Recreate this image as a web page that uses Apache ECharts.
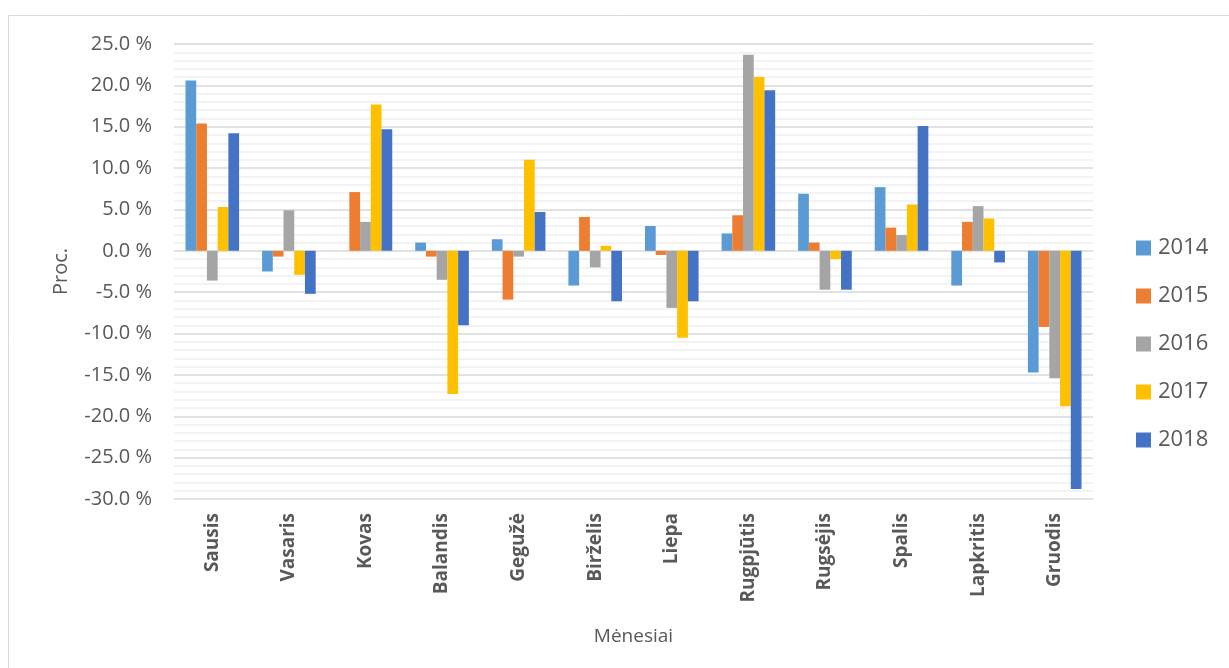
<!DOCTYPE html>
<html>
<head>
<meta charset="utf-8">
<script src="https://cdn.jsdelivr.net/npm/echarts@6/dist/echarts.min.js"></script>
<style>
  html, body { margin: 0; padding: 0; background: #fff; }
  #chart { width: 1229px; height: 668px; }
</style>
</head>
<body>
<div id="chart"></div>
<script>
// Months of the year (Lithuanian)
const months = ['Sausis', 'Vasaris', 'Kovas', 'Balandis', 'Gegužė', 'Birželis',
                'Liepa', 'Rugpjūtis', 'Rugsėjis', 'Spalis', 'Lapkritis', 'Gruodis'];

// Monthly change, percent
const y2014 = [20.6, -2.5, 0.0, 1.0, 1.4, -4.2, 3.0, 2.1, 6.9, 7.7, -4.2, -14.7];
const y2015 = [15.4, -0.7, 7.1, -0.7, -5.9, 4.1, -0.5, 4.3, 1.0, 2.8, 3.5, -9.2];
const y2016 = [-3.6, 4.9, 3.5, -3.5, -0.7, -2.0, -6.9, 23.7, -4.7, 1.9, 5.4, -15.4];
const y2017 = [5.3, -2.9, 17.7, -17.3, 11.0, 0.6, -10.5, 21.0, -1.0, 5.6, 3.9, -18.8];
const y2018 = [14.2, -5.2, 14.7, -9.0, 4.7, -6.1, -6.1, 19.4, -4.7, 15.1, -1.4, -28.8];

const seriesNames = ['2014', '2015', '2016', '2017', '2018'];
const seriesValues = [y2014, y2015, y2016, y2017, y2018];
const colors = ['#5B9BD5', '#ED7D31', '#A5A5A5', '#FFC000', '#4472C4'];

const font = '"Open Sans", "Liberation Sans", sans-serif';

const chart = echarts.init(document.getElementById('chart'), null, { renderer: 'canvas' });

chart.setOption({
  animation: false,
  backgroundColor: '#ffffff',
  color: colors,
  textStyle: { fontFamily: font },
  graphic: [{
    type: 'rect',
    shape: { x: 8.5, y: 15.5, width: 1240, height: 700 },
    style: { fill: 'none', stroke: '#D9D9D9', lineWidth: 1 },
    silent: true
  }],
  grid: { left: 174, right: 136, top: 44, bottom: 169, containLabel: false },
  legend: {
    orient: 'vertical',
    left: 1136,
    top: 237,
    padding: 0,
    itemGap: 26,
    itemWidth: 15,
    itemHeight: 15,
    icon: 'rect',
    textStyle: { fontFamily: font, fontSize: 22, color: '#595959', padding: [0, 0, 0, 2] },
    data: seriesNames
  },
  xAxis: {
    type: 'category',
    data: months,
    position: 'bottom',
    axisLine: { show: false },
    axisTick: { show: false },
    axisLabel: {
      rotate: 90,
      interval: 0,
      margin: 14,
      fontFamily: font,
      fontSize: 19,
      fontWeight: 'bold',
      color: '#595959'
    },
    name: 'Mėnesiai',
    nameLocation: 'middle',
    nameGap: 128,
    nameTextStyle: { fontFamily: font, fontSize: 19, color: '#595959' }
  },
  yAxis: {
    type: 'value',
    min: -30,
    max: 25,
    interval: 5,
    axisLine: { show: false },
    axisTick: { show: false },
    axisLabel: {
      margin: 22,
      fontFamily: font,
      fontSize: 20,
      color: '#595959',
      formatter: v => v.toFixed(1) + ' %'
    },
    splitLine: { show: true, lineStyle: { color: '#D9D9D9', width: 1.5 } },
    minorTick: { show: false, splitNumber: 5 },
    minorSplitLine: { show: true, lineStyle: { color: '#F0F0F0', width: 1.5 } },
    name: 'Proc.',
    nameLocation: 'middle',
    nameGap: 103,
    nameRotate: 90,
    nameTextStyle: { fontFamily: font, fontSize: 20, color: '#595959' }
  },
  series: seriesNames.map((name, i) => ({
    name: name,
    type: 'bar',
    data: seriesValues[i],
    barGap: '0%',
    barCategoryGap: '30%',
    itemStyle: { color: colors[i] }
  }))
});
</script>
</body>
</html>
